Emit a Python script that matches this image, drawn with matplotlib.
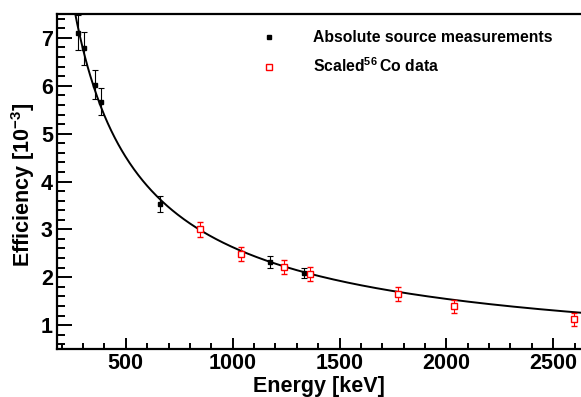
import numpy as np
import matplotlib
matplotlib.use('Agg')
from matplotlib import pyplot as plt
from matplotlib.lines import Line2D

# absolute source measurements (Ba-133, Cs-137, Co-60)
abs_energy = [276.4, 302.9, 356.0, 383.8, 661.7, 1173.2, 1332.5]
abs_eff = [7.11, 6.78, 6.02, 5.67, 3.53, 2.32, 2.09]
abs_err = [0.36, 0.34, 0.30, 0.28, 0.17, 0.12, 0.10]

# scaled Co-56 lines
co_energy = [846.8, 1037.8, 1238.3, 1360.2, 1771.4, 2034.8, 2598.5]
co_eff = [3.00, 2.48, 2.22, 2.07, 1.65, 1.39, 1.12]
co_err = [0.15, 0.15, 0.15, 0.15, 0.15, 0.14, 0.14]

# fit: ln(eff) = p0 + p1*ln(E/1MeV) + p2*ln(E/1MeV)^2
fit_pars = [0.966, -0.772, 0.0106]

plt.rcParams['font.family'] = ['Liberation Sans', 'DejaVu Sans']
plt.rcParams['font.weight'] = 'bold'
plt.rcParams['mathtext.fontset'] = 'custom'
plt.rcParams['mathtext.rm'] = 'Liberation Sans:bold'
plt.rcParams['mathtext.bf'] = 'Liberation Sans:bold'
plt.rcParams['mathtext.default'] = 'bf'

fig = plt.figure(figsize=(5.81, 3.97), dpi=100)
ax = fig.add_axes([57 / 581, 48 / 397, 524 / 581, 335 / 397])

e_fit = np.linspace(178, 2630, 600)
lx = np.log(e_fit / 1000.0)
eff_fit = np.exp(fit_pars[0] + fit_pars[1] * lx + fit_pars[2] * lx ** 2)
ax.plot(e_fit, eff_fit, color='black', lw=1.4, zorder=2)

ax.errorbar(abs_energy, abs_eff, yerr=abs_err, fmt='s', color='black',
            ms=3.5, elinewidth=0.8, capsize=2.5, capthick=0.8, zorder=3)
ax.errorbar(co_energy, co_eff, yerr=co_err, fmt='s', color='red', mfc='white',
            mec='red', ms=4.5, mew=1.0, elinewidth=0.8, capsize=2.5,
            capthick=0.8, zorder=3)

ax.set_xlim(178, 2630)
ax.set_ylim(0.5, 7.5)
ax.set_xticks([500, 1000, 1500, 2000, 2500])
ax.set_xticks(np.arange(200, 2700, 100), minor=True)
ax.set_yticks([1, 2, 3, 4, 5, 6, 7])
ax.set_yticks(np.arange(0.6, 7.5, 0.2), minor=True)

ax.tick_params(axis='both', which='both', direction='in', top=False, right=False,
               labelsize=15.5, width=1.4, pad=3)
ax.tick_params(axis='y', which='major', length=10.8)
ax.tick_params(axis='y', which='minor', length=5.8)
ax.tick_params(axis='x', which='major', length=7.7)
ax.tick_params(axis='x', which='minor', length=4.1)
for lab in ax.get_xticklabels() + ax.get_yticklabels():
    lab.set_fontweight('bold')

ax.spines['right'].set_visible(False)
for s in ['left', 'bottom', 'top']:
    ax.spines[s].set_linewidth(1.6)

ax.set_xlabel('Energy [keV]', fontsize=15.5, fontweight='bold', labelpad=1)
ax.set_ylabel(r'Efficiency [10$^{-3}$]', fontsize=15.5, fontweight='bold')
ax.yaxis.set_label_coords(-0.038, 0.49)

handles = [Line2D([], [], ls='none', marker='s', color='black', ms=3.5),
           Line2D([], [], ls='none', marker='s', mfc='white', mec='red', ms=4.5, mew=1.0)]
labels = ['Absolute source measurements', r'Scaled$^{56}\,$Co data']
ax.legend(handles, labels, loc='upper left', bbox_to_anchor=(261.4 / 581, 1 - 30 / 397),
          bbox_transform=fig.transFigure, frameon=False,
          prop={'weight': 'bold', 'size': 11.3}, borderpad=0, borderaxespad=0,
          handlelength=1.0, handletextpad=2.3, labelspacing=0.72)

fig.savefig('out.png', dpi=100)
